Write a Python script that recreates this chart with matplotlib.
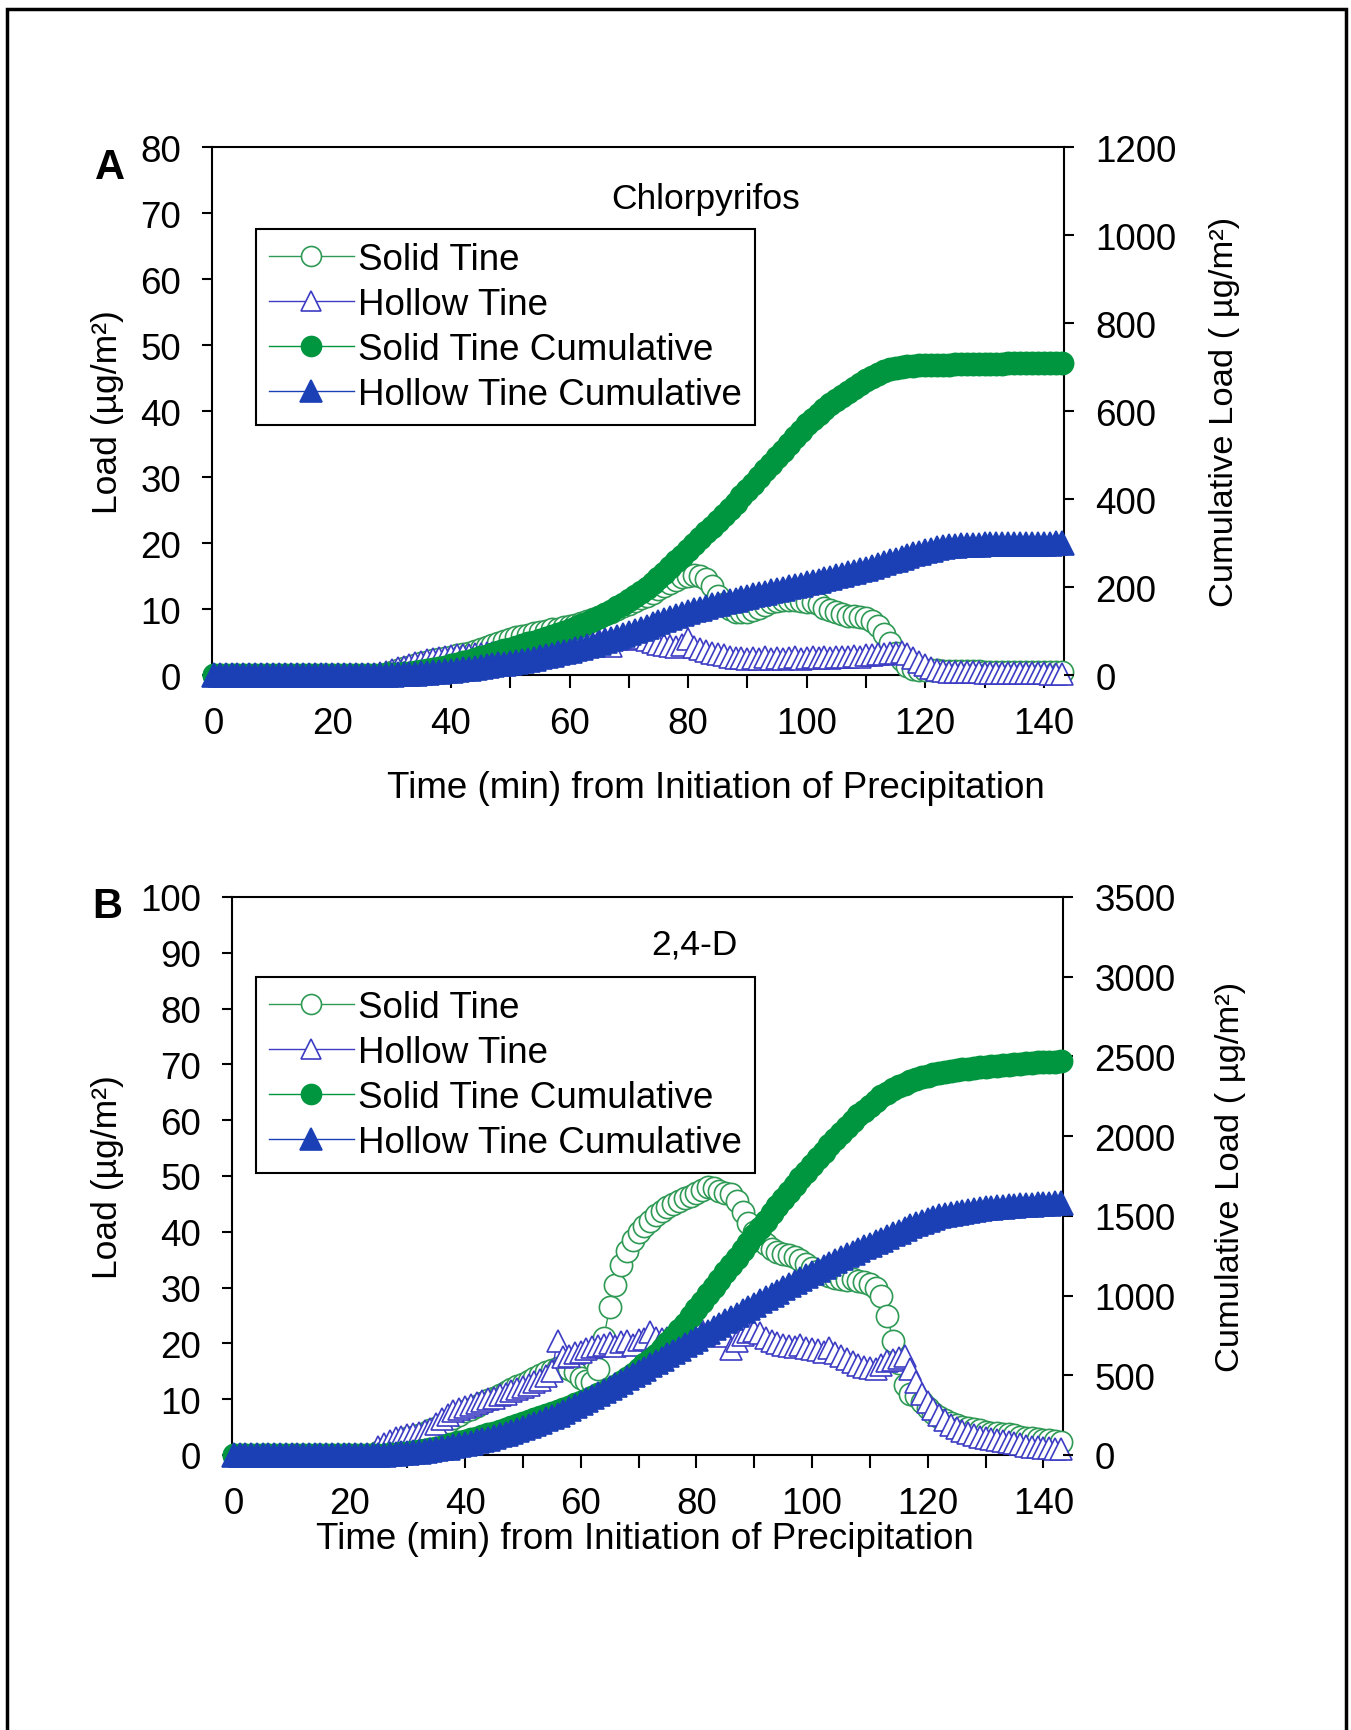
import numpy as np
import matplotlib
matplotlib.use("Agg")
import matplotlib.pyplot as plt
from matplotlib.patches import Rectangle
from matplotlib.ticker import MultipleLocator

plt.rcParams["font.family"] = ["Liberation Sans", "DejaVu Sans"]

# --------------------
# Data (1-min sampling)
# --------------------
time_min = list(range(144))

# Panel A - Chlorpyrifos, load in ug/m2
a_solid = [0] * 30 + [
    0.5, 0.7, 1.0, 1.2, 1.5, 1.8, 2.0, 2.2, 2.4, 2.6,
    2.8, 3.0, 3.2, 3.4, 3.6, 3.9, 4.2, 4.5, 4.8, 5.1,
    5.4, 5.7, 5.9, 6.1, 6.3, 6.5, 6.7, 6.9, 7.0, 7.2,
    7.4, 7.6, 7.9, 8.2, 8.5, 8.8, 9.2, 9.6, 10.0, 10.4,
    10.8, 11.2, 11.6, 12.0, 12.5, 13.0, 13.5, 14.0, 14.4, 14.8,
    15.0, 15.2, 15.0, 14.5, 13.5, 12.0, 10.8, 10.0, 9.6, 9.5,
    9.6, 9.8, 10.2, 10.6, 11.0, 11.2, 11.3, 11.4, 11.3, 11.2,
    11.1, 11.0, 10.8, 10.2, 9.8, 9.5, 9.2, 9.0, 8.9, 8.8,
    8.6, 8.2, 7.4, 6.2, 4.8, 3.4, 2.2, 1.3, 0.9, 0.8,
    0.7, 0.7, 0.7, 0.6, 0.6, 0.6, 0.6, 0.6, 0.6, 0.6,
    0.5, 0.5, 0.5, 0.5, 0.5, 0.5, 0.5, 0.5, 0.5, 0.5,
    0.5, 0.5, 0.5, 0.5,
]
a_hollow = [0] * 28 + [
    0.3, 0.5,
    0.8, 1.0, 1.2, 1.5, 1.8, 2.0, 2.2, 2.4, 2.6, 2.8,
    2.9, 3.0, 3.0, 3.1, 3.2, 3.2, 3.3, 3.4, 3.5, 3.6,
    3.8, 3.9, 4.0, 4.1, 4.2, 4.4, 4.5, 4.6, 4.7, 4.8,
    5.0, 4.8, 5.1, 5.2, 4.6, 5.3, 5.4, 4.4, 5.5, 5.6,
    5.5, 5.8, 5.6, 5.3, 5.0, 4.7, 4.5, 4.4, 4.3, 4.6,
    5.5, 4.2, 3.9, 3.6, 3.4, 3.2, 3.0, 2.8, 2.6, 2.6,
    2.5, 2.6, 2.5, 2.7, 2.5, 2.6, 2.5, 2.6, 2.7, 2.5,
    2.6, 2.7, 2.6, 2.7, 2.6, 2.8, 2.7, 2.8, 2.9, 2.8,
    3.0, 3.1, 3.2, 3.2, 3.3, 3.4, 3.5, 3.2, 2.6, 2.0,
    1.5, 1.1, 0.8, 0.6, 0.5, 0.5, 0.4, 0.4, 0.4, 0.4,
    0.3, 0.3, 0.3, 0.3, 0.3, 0.3, 0.3, 0.3, 0.3, 0.3,
    0.3, 0.2, 0.2, 0.2,
]
a_solid_cum = [0] * 26 + [
    0.5, 1, 1, 1.5,
    2, 3, 4, 5.5, 7, 9, 11, 13.5, 16, 19,
    22, 25.5, 29, 32.5, 36, 40, 44, 48, 52, 56,
    60, 64, 68, 72, 76, 80, 84, 88.5, 93, 97.5,
    102, 107.5, 113, 119, 125.5, 132, 139, 146.5, 154, 162,
    170, 179, 188.5, 198.5, 209, 220, 232, 245, 258, 271.5,
    285, 298, 311, 324, 337, 350, 364, 378, 392, 406,
    420, 435, 450, 465, 480, 495, 510, 525, 540, 555,
    570, 582, 594, 604, 615, 625, 635, 644, 653, 662,
    670, 677, 684, 690, 695, 698, 700, 702, 703, 703.5,
    704, 704.5, 705, 705, 705.5, 706, 706, 706.5, 706.5, 707,
    707, 707, 707.5, 707.5, 708, 708, 708.5, 708.5, 709, 709,
    709.5, 709.5, 710, 710,
]
a_hollow_cum = [0] * 26 + [
    0.2, 0.4, 0.6, 0.8,
    1, 1.5, 2, 2.7, 3.3, 4, 5, 6.2, 7.4, 8.7,
    10, 11.5, 13, 14.6, 16.3, 18, 20, 22, 24, 26,
    28, 30.3, 32.6, 35, 37.5, 40, 43, 46, 49, 52,
    55, 58.5, 62, 65.5, 69, 73, 77.5, 82, 86.5, 91,
    95, 100, 105, 110, 115, 120, 124.5, 129, 134, 138.5,
    143, 147, 151, 155, 158.5, 162, 165, 168.5, 171.5, 175,
    178, 181, 184, 187, 190, 193, 196, 199, 202, 205,
    208, 211, 214.5, 217.5, 221, 224, 227.5, 231, 234.5, 238,
    242, 246, 250, 254, 258, 262, 266, 270, 274, 278,
    282, 285, 288, 290.5, 292.5, 294, 295, 295.5, 296, 296.5,
    297, 297, 297.2, 297.4, 297.6, 297.8, 298, 298.2, 298.4, 298.6,
    298.7, 298.8, 298.9, 299,
]

# Panel B - 2,4-D, load in ug/m2
b_solid = [0] * 25 + [
    0.5, 1, 1.5, 2, 2.5,
    3, 3.3, 3.6, 4, 4.4, 4.9, 5.4, 6, 6.6, 7.2,
    7.8, 8.3, 8.8, 9.3, 9.8, 10.3, 10.8, 11.3, 11.8, 12.3,
    12.8, 13.3, 13.8, 14.3, 14.8, 15.3, 15.6, 15.8, 15.5, 14.8,
    13.8, 13.2, 13, 15.5, 21, 26.5, 30.5, 34, 36.5, 38.5,
    40, 41, 42, 43, 43.8, 44.4, 45, 45.5, 46, 46.5,
    47, 47.5, 48, 47.8, 47.3, 47, 46.8, 45.5, 43.5, 41.5,
    40, 38.8, 37.8, 37, 36.3, 36, 35.8, 35.5, 35, 34.3,
    33.6, 33, 32.4, 32, 31.8, 31.5, 31.3, 31.5, 31.2, 31,
    30.6, 30, 28.5, 25, 20.5, 16.5, 12.5, 11, 10.5, 9.5,
    8.5, 7.5, 6.8, 6.2, 5.7, 5.3, 5, 4.8, 4.6, 4.4,
    4.2, 4, 3.9, 3.8, 3.7, 3.5, 3.3, 3.1, 3, 2.9,
    2.7, 2.6, 2.5, 2.3,
]
b_hollow = [0] * 25 + [
    1.5, 2, 2.5, 3, 3.3,
    3.6, 3.8, 4, 4.3, 4.6, 5.5, 6.5, 7.2, 7.8, 8.2,
    8.6, 9, 9.3, 9.6, 10, 10.3, 10.7, 11, 11.4, 11.8,
    12.2, 12.6, 13, 13.5, 14.2, 15, 20.5, 17.5, 17.8, 18.2,
    18.5, 19, 19.3, 19.5, 19.8, 20, 19.6, 20.2, 20.4, 19.8,
    20.6, 20.8, 22, 21, 20.8, 21, 21.2, 20.9, 21.3, 21.5,
    24.5, 21.8, 21.5, 21.8, 21.6, 21.4, 19, 20.5, 21.5, 22,
    22.3, 21.8, 21, 20.4, 20, 19.8, 19.6, 19.4, 19.8, 19.2,
    19, 18.8, 18.5, 19.2, 18.2, 17.8, 17.2, 16.6, 16.2, 15.8,
    15.6, 15.5, 16.2, 16.8, 17, 17.3, 17.8, 15.5, 13, 11,
    9.5, 8.3, 7.2, 6.2, 5.4, 4.8, 4.3, 3.9, 3.6, 3.3,
    3.1, 2.9, 2.7, 2.5, 2.3, 2.1, 1.9, 1.7, 1.5, 1.4,
    1.3, 1.2, 1.1, 1.0,
]
b_solid_cum = [0] * 25 + [
    1, 2, 4, 7, 10,
    14, 19, 25, 31, 38, 45, 53, 61, 70, 79,
    88, 98, 108, 119, 130, 141, 153, 165, 177, 189,
    201, 213, 225, 237, 249, 261, 275, 289, 303, 317,
    331, 346, 362, 380, 397, 415, 435, 458, 483, 510,
    540, 568, 598, 630, 664, 700, 740, 781, 824, 869,
    915, 961, 1007, 1053, 1100, 1146, 1192, 1238, 1285, 1331,
    1377, 1423, 1470, 1515, 1560, 1605, 1650, 1693, 1735, 1778,
    1820, 1861, 1902, 1944, 1985, 2021, 2057, 2094, 2130, 2160,
    2190, 2220, 2250, 2272, 2293, 2312, 2330, 2345, 2358, 2370,
    2380, 2388, 2395, 2402, 2409, 2415, 2419, 2423, 2427, 2431,
    2435, 2438, 2441, 2444, 2447, 2450, 2453, 2456, 2459, 2462,
    2464, 2466, 2468, 2470,
]
b_hollow_cum = [0] * 25 + [
    1, 3, 5, 8, 11,
    14, 17, 21, 25, 30, 35, 41, 47, 54, 61,
    69, 77, 85, 94, 103, 113, 123, 134, 145, 157,
    169, 182, 195, 209, 223, 238, 254, 271, 288, 306,
    324, 343, 362, 381, 400, 420, 440, 460, 480, 500,
    520, 541, 562, 583, 604, 625, 646, 667, 688, 709,
    730, 752, 774, 796, 817, 838, 859, 880, 901, 922,
    943, 964, 985, 1005, 1025, 1045, 1065, 1085, 1104, 1123,
    1142, 1161, 1180, 1199, 1217, 1235, 1252, 1269, 1286, 1302,
    1318, 1334, 1350, 1367, 1384, 1401, 1418, 1435, 1450, 1464,
    1476, 1487, 1497, 1506, 1514, 1521, 1527, 1533, 1538, 1543,
    1547, 1551, 1555, 1558, 1561, 1564, 1567, 1569, 1571, 1573,
    1575, 1577, 1579, 1580,
]

SERIES_LABELS = ["Solid Tine", "Hollow Tine", "Solid Tine Cumulative", "Hollow Tine Cumulative"]
X_LABEL = "Time (min) from Initiation of Precipitation"
Y_LABEL = "Load (\u00b5g/m\u00b2)"
Y2_LABEL = "Cumulative Load ( \u00b5g/m\u00b2)"

# colours
GREEN_OPEN = "#2f9a55"
BLUE_OPEN = "#3c3cc4"
GREEN_FILL = "#00963f"
BLUE_FILL = "#1b3fb5"

FIG_W, FIG_H = 1351, 1731
DPI = 100


def fx(x):
    return x / FIG_W


def fy(y):
    return 1 - y / FIG_H


def px_box(left, top, right, bottom):
    return [fx(left), fy(bottom), (right - left) / FIG_W, (bottom - top) / FIG_H]


def draw_panel(fig, box, load_max, cum_max, cum_step, series, title, title_xy,
               letter, letter_xy, xlabel_xy, ylabel_x, y2label_x, legend_xy):
    solid, hollow, solid_cum, hollow_cum = series

    ax = fig.add_axes(box)
    ax2 = ax.twinx()

    # markers sit on top of the axis lines, as in the original Excel chart
    common = dict(lw=1.0, mew=1.2, clip_on=False, zorder=3)
    h1, = ax.plot(time_min, solid, color=GREEN_OPEN, marker="o", ms=16, mfc="white",
                  mec=GREEN_OPEN, **common)
    h2, = ax.plot(time_min, hollow, color=BLUE_OPEN, marker="^", ms=16.5, mfc="white",
                  mec=BLUE_OPEN, **common)
    h3, = ax2.plot(time_min, solid_cum, color=GREEN_FILL, marker="o", ms=16, mfc=GREEN_FILL,
                   mec=GREEN_FILL, **common)
    h4, = ax2.plot(time_min, hollow_cum, color=BLUE_FILL, marker="^", ms=17.5, mfc=BLUE_FILL,
                   mec=BLUE_FILL, **common)

    ax.set_xlim(-0.3, 143.4)
    ax.set_ylim(0, load_max)
    ax2.set_ylim(0, cum_max)
    ax.set_yticks(np.arange(0, load_max + 1, 10))
    ax2.set_yticks(np.arange(0, cum_max + 1, cum_step))
    ax.xaxis.set_major_locator(MultipleLocator(20))
    ax.xaxis.set_minor_locator(MultipleLocator(10))

    ax.tick_params(axis="y", direction="out", length=7.5, width=1.5, labelsize=26.5, pad=15)
    ax.tick_params(axis="x", which="both", direction="out", length=9.5, width=1.5,
                   labelsize=26.5, pad=13)
    ax2.tick_params(axis="y", direction="out", length=7.5, width=1.5, labelsize=26.5, pad=15)

    for sp in ax.spines.values():
        sp.set_linewidth(1.5)
        sp.set_color("black")
    for sp in ax2.spines.values():
        sp.set_visible(False)

    # axis titles placed in figure pixels
    y_mid = (box[1] + box[1] + box[3]) / 2
    fig.text(fx(ylabel_x), y_mid, Y_LABEL, rotation=90, ha="center", va="center", fontsize=25.5)
    fig.text(fx(y2label_x), y_mid, Y2_LABEL, rotation=90, ha="center", va="center", fontsize=24.8)
    fig.text(fx(xlabel_xy[0]), fy(xlabel_xy[1]), X_LABEL, ha="center", va="center", fontsize=26.5)
    fig.text(fx(title_xy[0]), fy(title_xy[1]), title, ha="center", va="center", fontsize=25.5)
    fig.text(fx(letter_xy[0]), fy(letter_xy[1]), letter, ha="center", va="center",
             fontsize=30, fontweight="bold")

    leg = ax2.legend([h1, h2, h3, h4], SERIES_LABELS, loc="upper left",
                     bbox_to_anchor=(fx(legend_xy[0]), fy(legend_xy[1])),
                     bbox_transform=fig.transFigure, fontsize=26.5, frameon=True,
                     fancybox=False, framealpha=1, edgecolor="black",
                     handlelength=2.3, handletextpad=0.12, labelspacing=0.27,
                     borderpad=0.35, borderaxespad=0, markerscale=0.9)
    leg.get_frame().set_linewidth(1.5)
    leg.set_zorder(5)
    return ax, ax2


def main():
    fig = plt.figure(figsize=(FIG_W / DPI, FIG_H / DPI), dpi=DPI)

    # Panel A
    draw_panel(fig, px_box(212, 148, 1064, 676), 80, 1200, 200,
               (a_solid, a_hollow, a_solid_cum, a_hollow_cum),
               "Chlorpyrifos", (706, 200), "A", (110, 168),
               (716, 789), 107, 1225, (256, 230))

    # Panel B
    draw_panel(fig, px_box(232, 898, 1063, 1456), 100, 3500, 500,
               (b_solid, b_hollow, b_solid_cum, b_hollow_cum),
               "2,4-D", (694, 945), "B", (107, 907),
               (645, 1540), 107, 1230, (256, 978))

    # outer frame of the figure panel
    frame = Rectangle((fx(6.5), -0.1), fx(1345.5) - fx(6.5), fy(9.5) + 0.1,
                      transform=fig.transFigure, fill=False, ec="black", lw=2.5)
    fig.add_artist(frame)

    fig.savefig("out.png", dpi=DPI)


if __name__ == "__main__":
    main()
